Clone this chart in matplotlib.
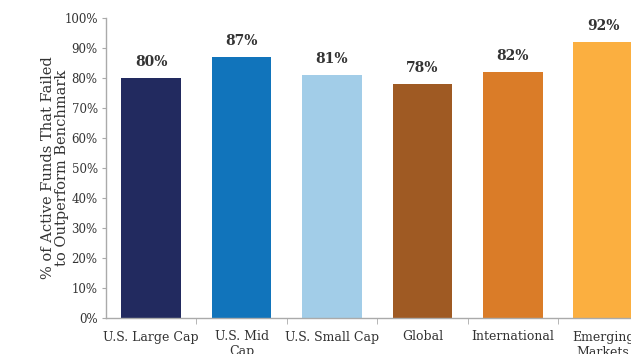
import matplotlib.pyplot as plt
import numpy as np

# === Data ===
categories = ["U.S. Large Cap", "U.S. Mid\nCap", "U.S. Small Cap", "Global",
              "International", "Emerging\nMarkets"]
failed_pct = [80, 87, 81, 78, 82, 92]
bar_colors = ["#222A5F", "#1174BB", "#A2CDE8", "#9F5A23", "#DA7C28", "#FBAF40"]
y_ticks = [0, 10, 20, 30, 40, 50, 60, 70, 80, 90, 100]

# === Style ===
plt.rcParams["font.family"] = ["DejaVu Serif"]
text_color = "#333333"
axis_color = "#AAAAAA"

fig = plt.figure(figsize=(6.31, 3.54), dpi=100)
# axes runs past the right edge, like the cropped original
ax = fig.add_axes([106 / 631, 1 - 318 / 354, 542.4 / 631, 300 / 354])

x = np.arange(len(categories))
ax.bar(x, failed_pct, width=0.66, color=bar_colors, zorder=2)

for xi, v in zip(x, failed_pct):
    ax.text(xi, v + 3.0, f"{v}%", ha="center", va="bottom",
            fontsize=10, fontweight="bold", color=text_color)

ax.set_xlim(-0.5, len(categories) - 0.5)
ax.set_ylim(0, 100)
ax.set_yticks(y_ticks)
ax.set_yticklabels([f"{t}%" for t in y_ticks], fontsize=8.5, color=text_color)

ax.set_xticks(x)
ax.set_xticklabels(categories, fontsize=9, color=text_color, linespacing=1.2)
ax.set_xticks(np.arange(len(categories)) + 0.5, minor=True)
ax.tick_params(axis="x", which="major", length=0, pad=9)
ax.tick_params(axis="x", which="minor", length=4, color=axis_color, direction="out")
ax.tick_params(axis="y", length=3, color=axis_color, pad=3)

for side in ["top", "right"]:
    ax.spines[side].set_visible(False)
for side in ["left", "bottom"]:
    ax.spines[side].set_color(axis_color)
    ax.spines[side].set_linewidth(1)

ax.set_ylabel("% of Active Funds That Failed\nto Outperform Benchmark",
              fontsize=10.5, color=text_color, linespacing=1.05)
ax.yaxis.set_label_coords(-0.068, 0.5)

plt.savefig("out.png", dpi=100)
plt.close()
